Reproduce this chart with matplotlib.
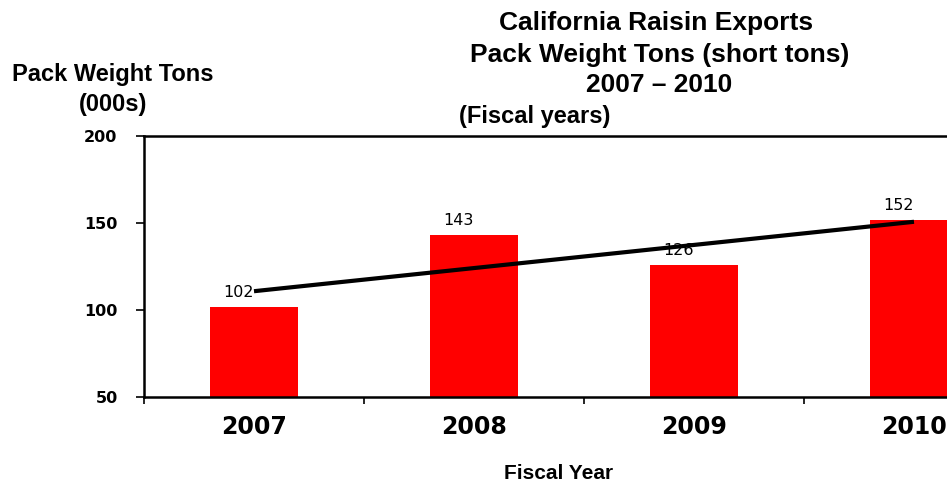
import numpy as np
import matplotlib.pyplot as plt
from matplotlib.ticker import FixedLocator

# Data
years = ["2007", "2008", "2009", "2010"]
tons = [102, 143, 126, 152]
y_ticks = [50, 100, 150, 200]

W, H = 947, 482
fig = plt.figure(figsize=(W / 100, H / 100), dpi=100)

# axes runs past the right edge, like the source slide
ax = fig.add_axes([144 / W, 85 / H, 880 / W, 261 / H])

x = np.arange(len(years))
ax.bar(x, tons, width=0.4, color="#ff0000", zorder=2)

# linear trend line through the bars
coef = np.polyfit(x, tons, 1)
ax.plot(x, np.polyval(coef, x), color="black", lw=3, zorder=3, solid_capstyle="butt")

for xi, v in zip(x, tons):
    ax.annotate(str(v), (xi, v), xytext=(-11, 5), textcoords="offset points",
                ha="center", va="bottom", fontsize=11.5, family="DejaVu Sans", zorder=4)

ax.set_xlim(-0.5, len(years) - 0.5)
ax.set_ylim(50, 200)
ax.set_yticks(y_ticks)
ax.set_yticklabels([str(t) for t in y_ticks], fontsize=11.5, fontweight="bold", family="DejaVu Sans")
ax.tick_params(axis="y", direction="out", length=6, width=1.2, pad=13)

ax.set_xticks(x)
ax.set_xticklabels(years, fontsize=17, fontweight="bold", family="DejaVu Sans")
ax.xaxis.set_minor_locator(FixedLocator(np.arange(-0.5, len(years), 1.0)))
ax.tick_params(axis="x", which="major", length=0, pad=13)
ax.tick_params(axis="x", which="minor", direction="out", length=5, width=1.2)

for s in ax.spines.values():
    s.set_linewidth(1.8)

tfont = dict(family="Liberation Sans", fontweight="bold")
fig.text(656 / W, 1 - 23 / H, "California Raisin Exports", ha="center", va="center", fontsize=19, **tfont)
fig.text(660 / W, 1 - 55 / H, "Pack Weight Tons (short tons)", ha="center", va="center", fontsize=19, **tfont)
fig.text(659 / W, 1 - 85 / H, "2007 \u2013 2010", ha="center", va="center", fontsize=19, **tfont)
fig.text(459 / W, 1 - 117 / H, "(Fiscal years)", ha="left", va="center", fontsize=17, **tfont)
fig.text(113 / W, 1 - 75 / H, "Pack Weight Tons", ha="center", va="center", fontsize=17, **tfont)
fig.text(113 / W, 1 - 105 / H, "(000s)", ha="center", va="center", fontsize=17, **tfont)
fig.text(559 / W, 1 - 464 / H, "Fiscal Year", ha="center", va="top", fontsize=15, **tfont)

fig.savefig("out.png", dpi=100)
